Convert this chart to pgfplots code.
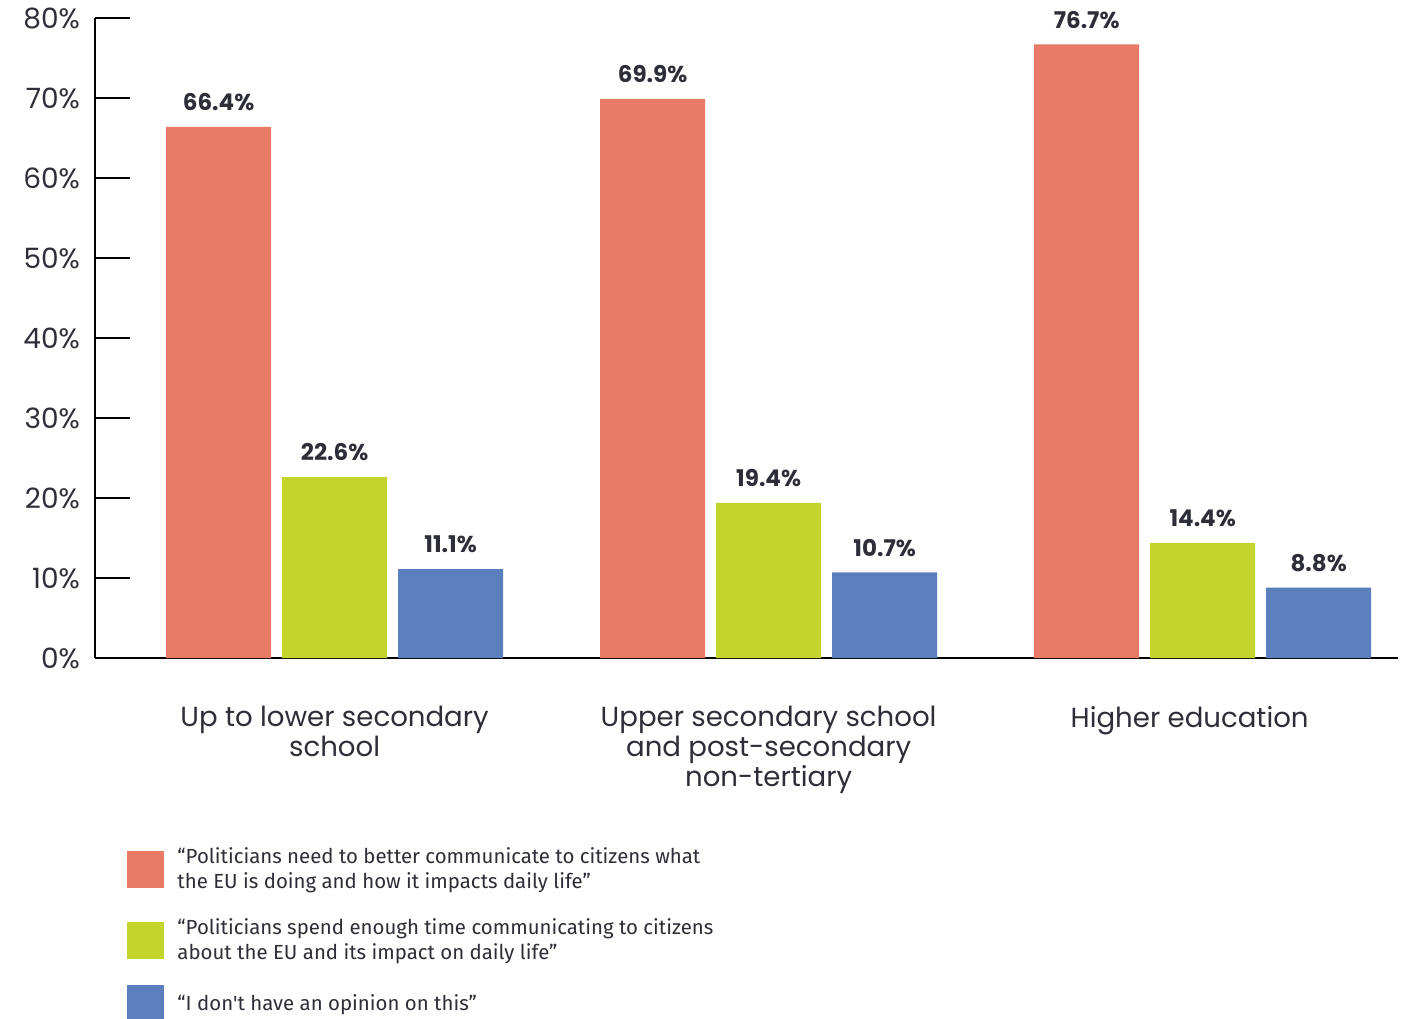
\documentclass[border=0pt]{standalone}
\usepackage{pgfplots}
\pgfplotsset{compat=1.18}
\usepackage{fontspec}
\setmainfont{Poppins}
\newfontfamily\legfont{Fira Sans}
\definecolor{cred}{HTML}{E87A66}
\definecolor{cgreen}{HTML}{C3D52C}
\definecolor{cblue}{HTML}{5B7FBC}
\definecolor{ctext}{HTML}{2E2E38}
\begin{document}
\begin{tikzpicture}[x=1pt,y=1pt]
\path[use as bounding box] (0,0) rectangle (704.5,509);
\begin{axis}[
  at={(47.5pt,180pt)}, anchor=south west,
  scale only axis, width=651.5pt, height=320pt,
  xmin=-0.552, xmax=2.45, ymin=0, ymax=80,
  ybar=5.5pt, bar width=52.5pt,
  axis x line=bottom, axis y line=left,
  axis line style={-, line width=0.7pt},
  ytick={0,10,...,80},
  yticklabel={\pgfmathprintnumber{\tick}\%},
  /pgf/number format/assume math mode=true,
  yticklabel style={font=\fontsize{14}{16}\selectfont, text=ctext, xshift=-4pt},
  ytick pos=left, tick align=inside, major tick length=17.5pt,
  y tick style={line width=0.7pt, black},
  xtick={0,1},
  xticklabels={{Up to lower secondary\\school},{Upper secondary school\\and post-secondary\\non-tertiary}},
  xticklabel style={align=center, font=\fontsize{13.8}{15}\selectfont, text=ctext, yshift=-20.5pt},
  extra x ticks={2},
  extra x tick labels={Higher education},
  extra x tick style={xticklabel style={xshift=-6.5pt}},
  x tick style={draw=none},
  nodes near coords={\pgfmathprintnumber[fixed,precision=1,fixed zerofill]{\pgfplotspointmeta}\%},
  every node near coord/.append style={font=\bfseries\fontsize{11.5}{13}\selectfont, text=ctext, yshift=4.5pt},
  legend style={at={(0.02,-0.283)}, anchor=north west, draw=none,
    font=\legfont\fontsize{10.2}{12.5}\selectfont, text=ctext,
    cells={anchor=west, align=left}, row sep=9.5pt,
    /tikz/every odd column/.append style={column sep=4.5pt}},
  legend image code/.code={\fill[#1] (0pt,-9.25pt) rectangle (18.5pt,9.25pt);},
]
\addplot[fill=cred, draw=none] coordinates {(0,66.4) (1,69.9) (2,76.7)};
\addlegendentry{“Politicians need to better communicate to citizens what\\the EU is doing and how it impacts daily life”}
\addplot[fill=cgreen, draw=none] coordinates {(0,22.6) (1,19.4) (2,14.4)};
\addlegendentry{“Politicians spend enough time communicating to citizens\\about the EU and its impact on daily life”}
\addplot[fill=cblue, draw=none] coordinates {(0,11.1) (1,10.7) (2,8.8)};
\addlegendentry{“I don't have an opinion on this”}
\end{axis}
\end{tikzpicture}
\end{document}
